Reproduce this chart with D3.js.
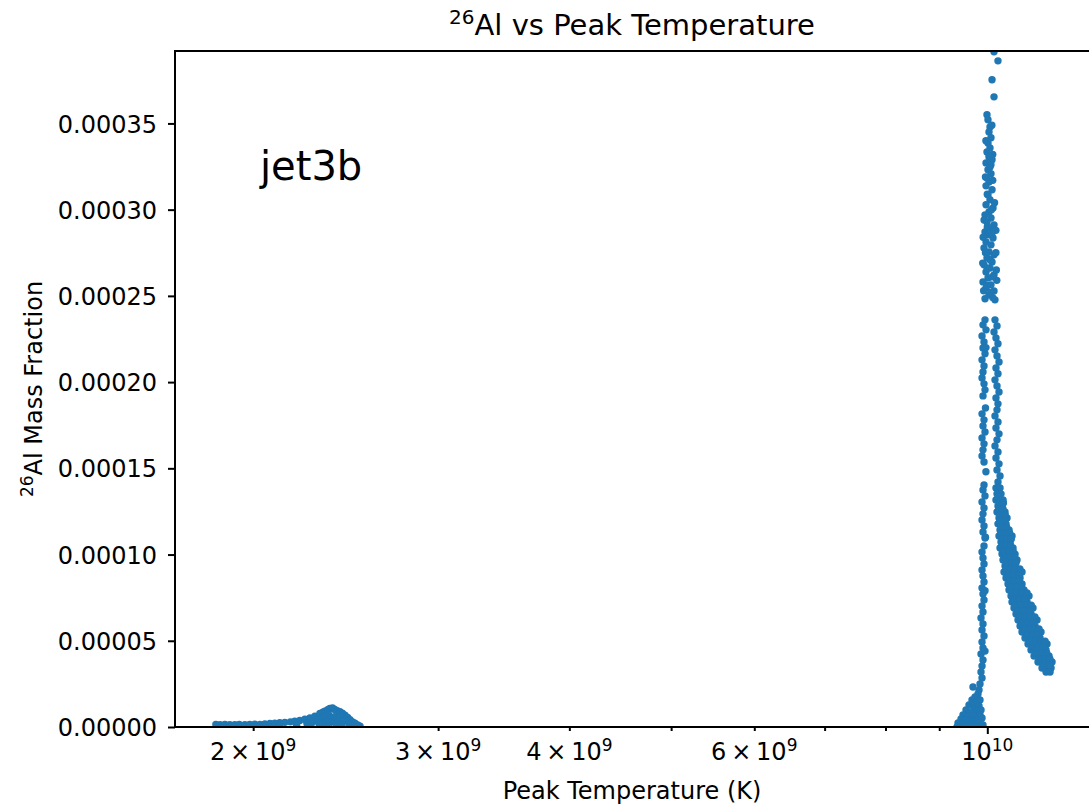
<!DOCTYPE html>
<html>
<head>
<meta charset="utf-8">
<script src="https://cdn.jsdelivr.net/npm/d3@7"></script>
<style>
  body { margin: 0; background: #fff; }
  text { font-family: "DejaVu Sans", sans-serif; fill: #000; }
</style>
</head>
<body>
<div id="chart"></div>
<script>
// values: temperature in 1e9 K, 26Al mass fraction in 1e-5
const T_UNIT = 1e9;
const X_UNIT = 1e-5;

// low temperature bump near 2e9 K
const lowBump = [
  [1.843,0.15],[1.860,0.14],[1.880,0.15],[1.900,0.13],[1.921,0.14],[1.940,0.15],[1.964,0.14],[1.985,0.15],
  [2.007,0.16],[2.030,0.15],[2.052,0.18],[2.075,0.20],[2.097,0.22],[2.120,0.25],[2.144,0.27],[2.170,0.30],
  [2.191,0.33],[2.215,0.38],[2.240,0.45],[2.265,0.52],[2.290,0.62],[2.315,0.78],[2.330,0.86],[2.340,0.92],
  [2.355,1.00],[2.366,1.08],[2.375,1.05],[2.380,1.10],[2.392,1.02],[2.405,0.95],[2.419,0.88],[2.432,0.80],
  [2.446,0.68],[2.460,0.55],[2.473,0.42],[2.487,0.30],[2.500,0.22],[2.515,0.12],[2.528,0.05],
  [2.20,0.10],[2.25,0.20],[2.28,0.30],[2.30,0.40],[2.32,0.50],[2.34,0.60],[2.36,0.70],[2.37,0.50],
  [2.38,0.30],[2.39,0.60],[2.41,0.40],[2.42,0.60],[2.43,0.20],[2.45,0.35],[2.47,0.15],[2.35,0.30],
  [2.33,0.15],[2.31,0.20],[2.27,0.05],[2.40,0.10],[2.49,0.08],[2.36,0.05],[2.43,0.05],[2.12,0.08],
  [2.05,0.06],[1.95,0.05],[1.87,0.06]
];

// top of the peak, single column above ~2.5e-4
const peakColumn = [
  [10.148,39.15],[10.237,38.63],[10.104,37.53],[10.148,36.54],
  [9.993,35.50],[10.015,35.21],[10.059,34.80],[10.037,34.51],[10.081,34.17],[10.015,33.87],[10.059,33.58],
  [9.993,33.35],[10.037,33.06],[10.104,32.89],[9.972,32.71],[10.059,32.48],[10.015,32.31],[10.081,32.08],
  [9.993,31.84],[10.037,31.61],[9.972,31.38],[10.104,31.15],[10.015,30.86],[10.059,30.57],[9.972,30.28],
  [10.126,30.10],[10.037,29.87],[9.950,29.70],[10.081,29.52],[9.993,29.29],[10.148,29.12],[10.059,28.94],
  [9.950,28.71],[10.015,28.54],[10.126,28.36],[9.972,28.13],[10.081,27.96],[9.928,27.78],[10.037,27.55],
  [10.148,27.38],[9.993,27.20],[10.104,26.97],[9.928,26.80],[10.059,26.62],[9.972,26.39],[10.148,26.22],
  [10.015,26.04],[9.906,25.81],[10.081,25.64],[9.972,25.46],[10.148,25.29],[10.037,25.06],[9.950,24.83],
  [10.170,24.77],
  [10.10,34.9],[9.97,34.0],[10.12,33.2],[9.96,31.9],[10.12,31.7],[10.16,30.4],[9.93,29.4],[10.19,28.8],
  [9.91,28.4],[10.19,27.5],[9.90,26.9],[10.20,26.5],[9.92,25.3],[10.21,25.9],[10.12,24.9],
  [10.05,33.1],[10.08,32.6],[10.00,30.9],[10.09,30.0],[10.00,29.0],[10.10,28.6],[9.96,27.5],[10.06,27.1],
  [10.00,26.6],[10.11,26.1],[9.99,25.6],[10.08,25.2]
];

// rising (cooler) branch down to zero
const risingBranch = [
  [9.950,23.61],[9.906,23.32],[9.972,23.03],[9.885,22.68],[9.928,22.33],[9.906,21.98],[9.950,21.64],
  [9.885,21.29],[9.928,20.94],[9.906,20.59],[9.885,20.24],[9.928,19.90],[9.950,19.55],[9.906,19.20],
  [9.885,18.16],[9.928,17.81],[9.906,17.46],[9.950,17.11],[9.885,16.76],[9.928,16.42],[9.906,16.07],
  [9.885,15.72],[9.928,15.37],[9.928,14.04],[9.906,13.75],[9.950,13.40],[9.885,13.05],[9.928,12.70],
  [9.906,12.36],[9.885,12.01],[9.928,11.66],[9.906,11.31],[9.950,10.96],[9.928,10.50],[9.885,10.15],
  [9.906,9.80],[9.928,9.45],[9.885,9.11],[9.906,8.76],[9.928,8.41],[9.885,8.06],[9.906,7.71],
  [9.928,7.37],[9.885,7.02],[9.906,6.67],[9.863,6.32],[9.906,5.97],[9.885,5.63],[9.928,5.28],
  [9.885,4.93],[9.906,4.58],[9.863,4.23],[9.906,3.89],[9.885,3.54],[9.863,3.19],[9.885,2.84],
  [9.841,2.49],[9.820,2.15],[9.691,2.32],
  [9.97,22.0],[9.96,18.5],[9.97,14.8],[9.96,11.0],[9.95,7.9],[9.95,4.4],
  [9.798,1.91],[9.734,1.74],[9.670,1.57],[9.756,1.39],[9.841,1.57],[9.607,1.28],[9.713,1.16],[9.820,1.22],
  [9.544,0.99],[9.649,0.87],[9.777,0.93],[9.863,0.99],[9.481,0.70],[9.586,0.64],[9.713,0.64],[9.841,0.70],
  [9.440,0.46],[9.544,0.41],[9.649,0.35],[9.777,0.41],[9.885,0.52],[9.378,0.23],[9.481,0.17],[9.607,0.12],
  [9.734,0.17],[9.841,0.23],[9.357,0.00],[9.544,0.00],[9.670,0.00],[9.798,0.00],[9.906,0.12]
];

// falling (hotter) branch, widening towards 1.15e10 K
const fallingBranch = [
  [10.170,23.61],[10.215,23.26],[10.148,22.91],[10.192,22.56],[10.237,22.22],[10.170,21.87],[10.215,21.52],
  [10.260,21.17],[10.192,20.82],[10.237,20.48],[10.170,20.13],[10.215,19.78],[10.260,19.43],[10.192,19.08],
  [10.237,18.74],[10.215,18.39],[10.170,18.04],[10.237,17.69],[10.192,17.34],[10.260,17.00],[10.215,16.65],
  [10.170,16.30],[10.237,15.95],[10.192,15.60],[10.260,15.26],[10.215,14.91],[10.283,14.56],[10.237,14.21],
  [10.192,13.86],[10.283,13.86],[10.215,13.52],[10.305,13.52],
  [10.192,13.17],[10.260,13.17],[10.351,13.17],[10.237,12.82],[10.328,12.82],
  [10.215,12.47],[10.305,12.47],[10.396,12.47],[10.260,12.12],[10.351,12.12],[10.442,12.12],
  [10.237,11.78],[10.328,11.78],[10.419,11.78],[10.283,11.43],[10.373,11.43],[10.488,11.43],
  [10.260,11.08],[10.351,11.08],[10.442,11.08],[10.557,11.08],[10.305,10.73],[10.396,10.73],[10.511,10.73],
  [10.283,10.38],[10.373,10.38],[10.465,10.38],[10.580,10.38],
  [10.328,10.03],[10.419,10.03],[10.534,10.03],[10.627,10.03],
  [10.351,9.69],[10.465,9.69],[10.557,9.69],[10.673,9.69],[10.396,9.34],[10.488,9.34],[10.603,9.34],
  [10.373,8.99],[10.465,8.99],[10.580,8.99],[10.697,8.99],[10.791,8.99],
  [10.419,8.64],[10.534,8.64],[10.650,8.64],[10.744,8.64],
  [10.465,8.29],[10.557,8.29],[10.673,8.29],[10.791,8.29],
  [10.488,7.95],[10.603,7.95],[10.720,7.95],[10.838,7.95],
  [10.534,7.60],[10.627,7.60],[10.744,7.60],[10.862,7.60],[10.958,7.60],
  [10.557,7.25],[10.673,7.25],[10.791,7.25],[10.910,7.25],
  [10.603,6.90],[10.720,6.90],[10.838,6.90],[10.958,6.90],[11.054,6.90],
  [10.650,6.55],[10.767,6.55],[10.886,6.55],[11.006,6.55],
  [10.697,6.21],[10.815,6.21],[10.934,6.21],[11.054,6.21],[11.152,6.21],
  [10.744,5.86],[10.862,5.86],[10.982,5.86],[11.103,5.86],
  [10.791,5.51],[10.910,5.51],[11.030,5.51],[11.152,5.51],[11.250,5.51],
  [10.862,5.16],[10.982,5.16],[11.103,5.16],[11.225,5.16],
  [10.934,4.81],[11.054,4.81],[11.176,4.81],[11.299,4.81],[11.399,4.81],
  [11.006,4.47],[11.127,4.47],[11.250,4.47],[11.374,4.47],
  [11.079,4.12],[11.201,4.12],[11.324,4.12],[11.449,4.12],
  [11.176,3.77],[11.299,3.77],[11.424,3.77],[11.525,3.77],
  [11.275,3.42],[11.399,3.42],[11.500,3.42],[11.374,3.19],[11.475,3.19],
  [10.24,13.35],[10.28,13.00],[10.36,12.99],[10.26,12.64],[10.35,12.64],[10.30,12.30],[10.40,12.30],
  [10.28,11.95],[10.39,11.95],[10.33,11.60],[10.43,11.60],[10.31,11.25],[10.40,11.25],[10.50,11.25],
  [10.35,10.90],[10.45,10.90],[10.54,10.90],[10.33,10.55],[10.42,10.55],[10.52,10.55],[10.37,10.20],
  [10.48,10.20],[10.58,10.20],[10.41,9.86],[10.51,9.86],[10.62,9.86],[10.43,9.51],[10.55,9.51],
  [10.65,9.51],[10.42,9.16],[10.53,9.16],[10.64,9.16],[10.74,9.16],[10.48,8.81],[10.60,8.81],
  [10.72,8.81],[10.51,8.46],[10.61,8.46],[10.73,8.46],[10.54,8.12],[10.66,8.12],[10.78,8.12],
  [10.58,7.77],[10.68,7.77],[10.80,7.77],[10.91,7.77],[10.61,7.42],[10.73,7.42],[10.85,7.42],
  [10.65,7.07],[10.78,7.07],[10.90,7.07],[11.01,7.07],[10.70,6.72],[10.82,6.72],[10.95,6.72],
  [10.75,6.38],[10.87,6.38],[10.99,6.38],[11.10,6.38],[10.79,6.03],[10.92,6.03],[11.04,6.03],
  [10.85,5.68],[10.97,5.68],[11.09,5.68],[11.20,5.68],[10.92,5.33],[11.04,5.33],[11.16,5.33],
  [10.99,4.98],[11.12,4.98],[11.24,4.98],[11.35,4.98],[11.07,4.64],[11.19,4.64],[11.31,4.64],
  [11.14,4.29],[11.26,4.29],[11.39,4.29],[11.24,3.94],[11.36,3.94],[11.47,3.94],[11.34,3.60],[11.45,3.60]
];

const yTickValues = [0, 5, 10, 15, 20, 25, 30, 35];
const xMajorTicks = [10];
const xMinorTicks = [2, 3, 4, 5, 6, 7, 8, 9];
const xTickLabels = [
  { t: 2, base: "2\u2009×\u200910", sup: "9" },
  { t: 3, base: "3\u2009×\u200910", sup: "9" },
  { t: 4, base: "4\u2009×\u200910", sup: "9" },
  { t: 6, base: "6\u2009×\u200910", sup: "9" },
  { t: 10, base: "10", sup: "10" }
];

const W = 1089, H = 808;
const plot = { left: 175, right: 1090, top: 51, bottom: 727 };

const svg = d3.select("#chart").append("svg")
  .attr("width", W)
  .attr("height", H)
  .attr("viewBox", `0 0 ${W} ${H}`);

svg.append("rect").attr("width", W).attr("height", H).attr("fill", "#fff");

const x = d3.scaleLog()
  .domain([1.685e9, 1.2525e10])
  .range([plot.left, plot.right]);

const y = d3.scaleLinear()
  .domain([0, 3.92e-4])
  .range([plot.bottom, plot.top]);

svg.append("clipPath").attr("id", "plotClip")
  .append("rect")
  .attr("x", plot.left).attr("y", plot.top)
  .attr("width", plot.right - plot.left)
  .attr("height", plot.bottom - plot.top);

const points = [].concat(lowBump, peakColumn, risingBranch, fallingBranch);

svg.append("g")
  .attr("clip-path", "url(#plotClip)")
  .selectAll("circle")
  .data(points)
  .enter()
    .append("circle")
    .attr("cx", d => x(d[0] * T_UNIT))
    .attr("cy", d => y(d[1] * X_UNIT))
    .attr("r", 3.7)
    .attr("fill", "#1f77b4");

// y axis
const yAxis = svg.append("g")
  .attr("transform", `translate(${plot.left},0)`)
  .call(d3.axisLeft(y)
    .tickValues(yTickValues.map(v => v * X_UNIT))
    .tickSize(7)
    .tickPadding(11)
    .tickFormat(d => d.toFixed(5)));
yAxis.select(".domain").remove();
yAxis.selectAll("line").attr("stroke", "#000").attr("stroke-width", 2);
yAxis.selectAll("text")
  .attr("font-family", "DejaVu Sans")
  .attr("font-size", 24)
  .attr("fill", "#000")
  .attr("dy", "0.36em");

// x axis: major and minor tick marks
const xMajor = svg.append("g")
  .attr("transform", `translate(0,${plot.bottom})`)
  .call(d3.axisBottom(x).tickValues(xMajorTicks.map(t => t * T_UNIT)).tickSize(7).tickFormat(""));
const xMinor = svg.append("g")
  .attr("transform", `translate(0,${plot.bottom})`)
  .call(d3.axisBottom(x).tickValues(xMinorTicks.map(t => t * T_UNIT)).tickSize(4).tickFormat(""));
[xMajor, xMinor].forEach(g => {
  g.select(".domain").remove();
  g.selectAll("line").attr("stroke", "#000").attr("stroke-width", 2);
});

const xLabels = svg.append("g");
xTickLabels.forEach(l => {
  const t = xLabels.append("text")
    .attr("x", x(l.t * T_UNIT))
    .attr("y", 760)
    .attr("text-anchor", "middle")
    .attr("font-size", 24);
  t.append("tspan").text(l.base);
  t.append("tspan").attr("dy", -9).attr("font-size", 17).text(l.sup);
});

// frame
svg.append("rect")
  .attr("x", plot.left).attr("y", plot.top)
  .attr("width", plot.right - plot.left)
  .attr("height", plot.bottom - plot.top)
  .attr("fill", "none")
  .attr("stroke", "#000")
  .attr("stroke-width", 2);

// title
const title = svg.append("text")
  .attr("x", (plot.left + 1089) / 2)
  .attr("y", 35)
  .attr("text-anchor", "middle")
  .attr("font-size", 29);
title.append("tspan").attr("dy", -11).attr("font-size", 20).text("26");
title.append("tspan").attr("dy", 11).text("Al vs Peak Temperature");

// axis labels
svg.append("text")
  .attr("x", (plot.left + 1089) / 2)
  .attr("y", 799)
  .attr("text-anchor", "middle")
  .attr("font-size", 24)
  .text("Peak Temperature (K)");

const yLabel = svg.append("text")
  .attr("transform", `translate(42,${(plot.top + plot.bottom) / 2}) rotate(-90)`)
  .attr("text-anchor", "middle")
  .attr("font-size", 24);
yLabel.append("tspan").attr("dy", -9).attr("font-size", 17).text("26");
yLabel.append("tspan").attr("dy", 9).text("Al Mass Fraction");

// run label
svg.append("text")
  .attr("x", 260)
  .attr("y", 180)
  .attr("font-family", "Open Sans")
  .attr("font-size", 40)
  .text("jet3b");
</script>
</body>
</html>
